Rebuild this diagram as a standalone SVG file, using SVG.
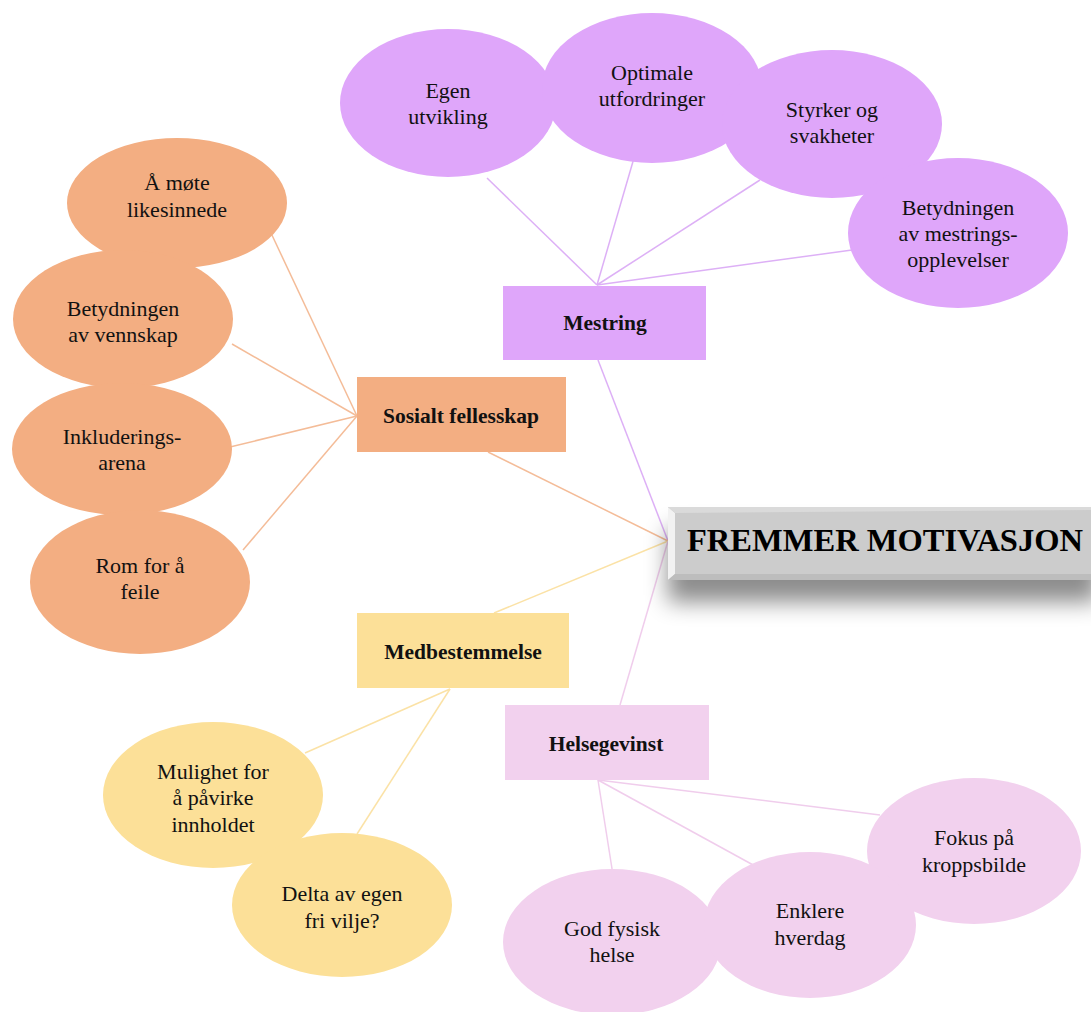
<svg xmlns="http://www.w3.org/2000/svg" width="1091" height="1012" viewBox="0 0 1091 1012">
<defs>
<filter id="sh" x="-20%" y="-60%" width="140%" height="280%">
<feDropShadow dx="0" dy="22" stdDeviation="11" flood-color="#000" flood-opacity="0.45"/>
</filter>
<style>
.t{font-family:"Liberation Serif","Times New Roman",serif;font-size:22px;fill:#111;text-anchor:middle}
.b{font-family:"Liberation Serif","Times New Roman",serif;font-size:21.5px;font-weight:bold;fill:#111;text-anchor:middle}
.lp{stroke:#DDB0F6;stroke-width:1.5;fill:none}
.lo{stroke:#F4BC98;stroke-width:1.5;fill:none}
.ly{stroke:#FBE2A6;stroke-width:1.5;fill:none}
.lk{stroke:#F0CDEC;stroke-width:1.5;fill:none}
.ep{fill:#DFA6FA}
.eo{fill:#F3AE82}
.ey{fill:#FCE098}
.ek{fill:#F2D1EE}
</style>
</defs>
<rect width="1091" height="1012" fill="#fff"/>
<g id="connectors">
<line class="lp" x1="668" y1="541" x2="598" y2="360"/>
<line class="lo" x1="668" y1="541" x2="488" y2="452"/>
<line class="ly" x1="668" y1="541" x2="494" y2="613"/>
<line class="lk" x1="668" y1="541" x2="620" y2="705"/>
<line class="lp" x1="597" y1="285" x2="487" y2="178"/>
<line class="lp" x1="597" y1="285" x2="634" y2="158"/>
<line class="lp" x1="597" y1="285" x2="760" y2="180"/>
<line class="lp" x1="597" y1="285" x2="852" y2="250"/>
<line class="lo" x1="357" y1="416" x2="271" y2="233"/>
<line class="lo" x1="357" y1="416" x2="232" y2="344"/>
<line class="lo" x1="357" y1="416" x2="230" y2="447"/>
<line class="lo" x1="357" y1="416" x2="243" y2="550"/>
<line class="ly" x1="450" y1="689" x2="305" y2="753"/>
<line class="ly" x1="450" y1="689" x2="357" y2="834"/>
<line class="lk" x1="598" y1="780" x2="613" y2="875"/>
<line class="lk" x1="598" y1="780" x2="755" y2="866"/>
<line class="lk" x1="598" y1="780" x2="880" y2="815"/>
</g>
<g id="fremmer">
<rect x="668" y="507" width="430" height="73" fill="#CCCCCC" filter="url(#sh)"/>
<polygon points="668,507 675,513 675,574 668,580" fill="#F2F2F2"/>
<polygon points="668,507 1091,507 1091,510 675,513" fill="#DADADA"/>
<polygon points="668,580 675,574 1091,574 1091,580" fill="#BDBDBD"/>
<text x="885" y="551" font-family="Liberation Serif,'Times New Roman',serif" font-size="31" font-weight="bold" fill="#000" text-anchor="middle" textLength="396" lengthAdjust="spacingAndGlyphs">FREMMER MOTIVASJON</text>
</g>
<g id="mestring">
<rect x="503" y="286" width="203" height="74" fill="#DFA6FA"/>
<text class="b" x="605" y="330">Mestring</text>
</g>
<g id="egen">
<ellipse class="ep" cx="448" cy="103" rx="108" ry="74"/>
<text class="t" x="448" y="98">Egen</text>
<text class="t" x="448" y="124">utvikling</text>
</g>
<g id="optimale">
<ellipse class="ep" cx="652" cy="88" rx="110" ry="75"/>
<text class="t" x="652" y="80">Optimale</text>
<text class="t" x="652" y="106">utfordringer</text>
</g>
<g id="styrker">
<ellipse class="ep" cx="832" cy="124" rx="110" ry="74"/>
<text class="t" x="832" y="117">Styrker og</text>
<text class="t" x="832" y="143">svakheter</text>
</g>
<g id="betydningen-mestring">
<ellipse class="ep" cx="958" cy="233" rx="110" ry="75"/>
<text class="t" x="958" y="215">Betydningen</text>
<text class="t" x="958" y="241">av mestrings-</text>
<text class="t" x="958" y="267">opplevelser</text>
</g>
<g id="sosialt">
<rect x="357" y="377" width="209" height="75" fill="#F3AE82"/>
<text class="b" x="461" y="423">Sosialt fellesskap</text>
</g>
<g id="mote">
<ellipse class="eo" cx="177" cy="203" rx="110" ry="65"/>
<text class="t" x="177" y="190">Å møte</text>
<text class="t" x="177" y="217">likesinnede</text>
</g>
<g id="vennskap">
<ellipse class="eo" cx="123" cy="319" rx="110" ry="69"/>
<text class="t" x="123" y="316">Betydningen</text>
<text class="t" x="123" y="342">av vennskap</text>
</g>
<g id="inkludering">
<ellipse class="eo" cx="122" cy="449" rx="110" ry="66"/>
<text class="t" x="122" y="444">Inkluderings-</text>
<text class="t" x="122" y="470">arena</text>
</g>
<g id="rom">
<ellipse class="eo" cx="140" cy="582" rx="110" ry="72"/>
<text class="t" x="140" y="573">Rom for å</text>
<text class="t" x="140" y="599">feile</text>
</g>
<g id="medbestemmelse">
<rect x="357" y="613" width="212" height="75" fill="#FCE098"/>
<text class="b" x="463" y="659">Medbestemmelse</text>
</g>
<g id="mulighet">
<ellipse class="ey" cx="213" cy="795" rx="110" ry="73"/>
<text class="t" x="213" y="779">Mulighet for</text>
<text class="t" x="213" y="805">å påvirke</text>
<text class="t" x="213" y="832">innholdet</text>
</g>
<g id="delta">
<ellipse class="ey" cx="342" cy="905" rx="110" ry="72"/>
<text class="t" x="342" y="901">Delta av egen</text>
<text class="t" x="342" y="928">fri vilje?</text>
</g>
<g id="helsegevinst">
<rect x="505" y="705" width="204" height="75" fill="#F2D1EE"/>
<text class="b" x="606" y="751">Helsegevinst</text>
</g>
<g id="fokus">
<ellipse class="ek" cx="974" cy="851" rx="107" ry="73"/>
<text class="t" x="974" y="845">Fokus på</text>
<text class="t" x="974" y="872">kroppsbilde</text>
</g>
<g id="god">
<ellipse class="ek" cx="612" cy="942" rx="109" ry="73"/>
<text class="t" x="612" y="936">God fysisk</text>
<text class="t" x="612" y="962">helse</text>
</g>
<g id="enklere">
<ellipse class="ek" cx="810" cy="925" rx="106" ry="73"/>
<text class="t" x="810" y="918">Enklere</text>
<text class="t" x="810" y="945">hverdag</text>
</g>
</svg>
